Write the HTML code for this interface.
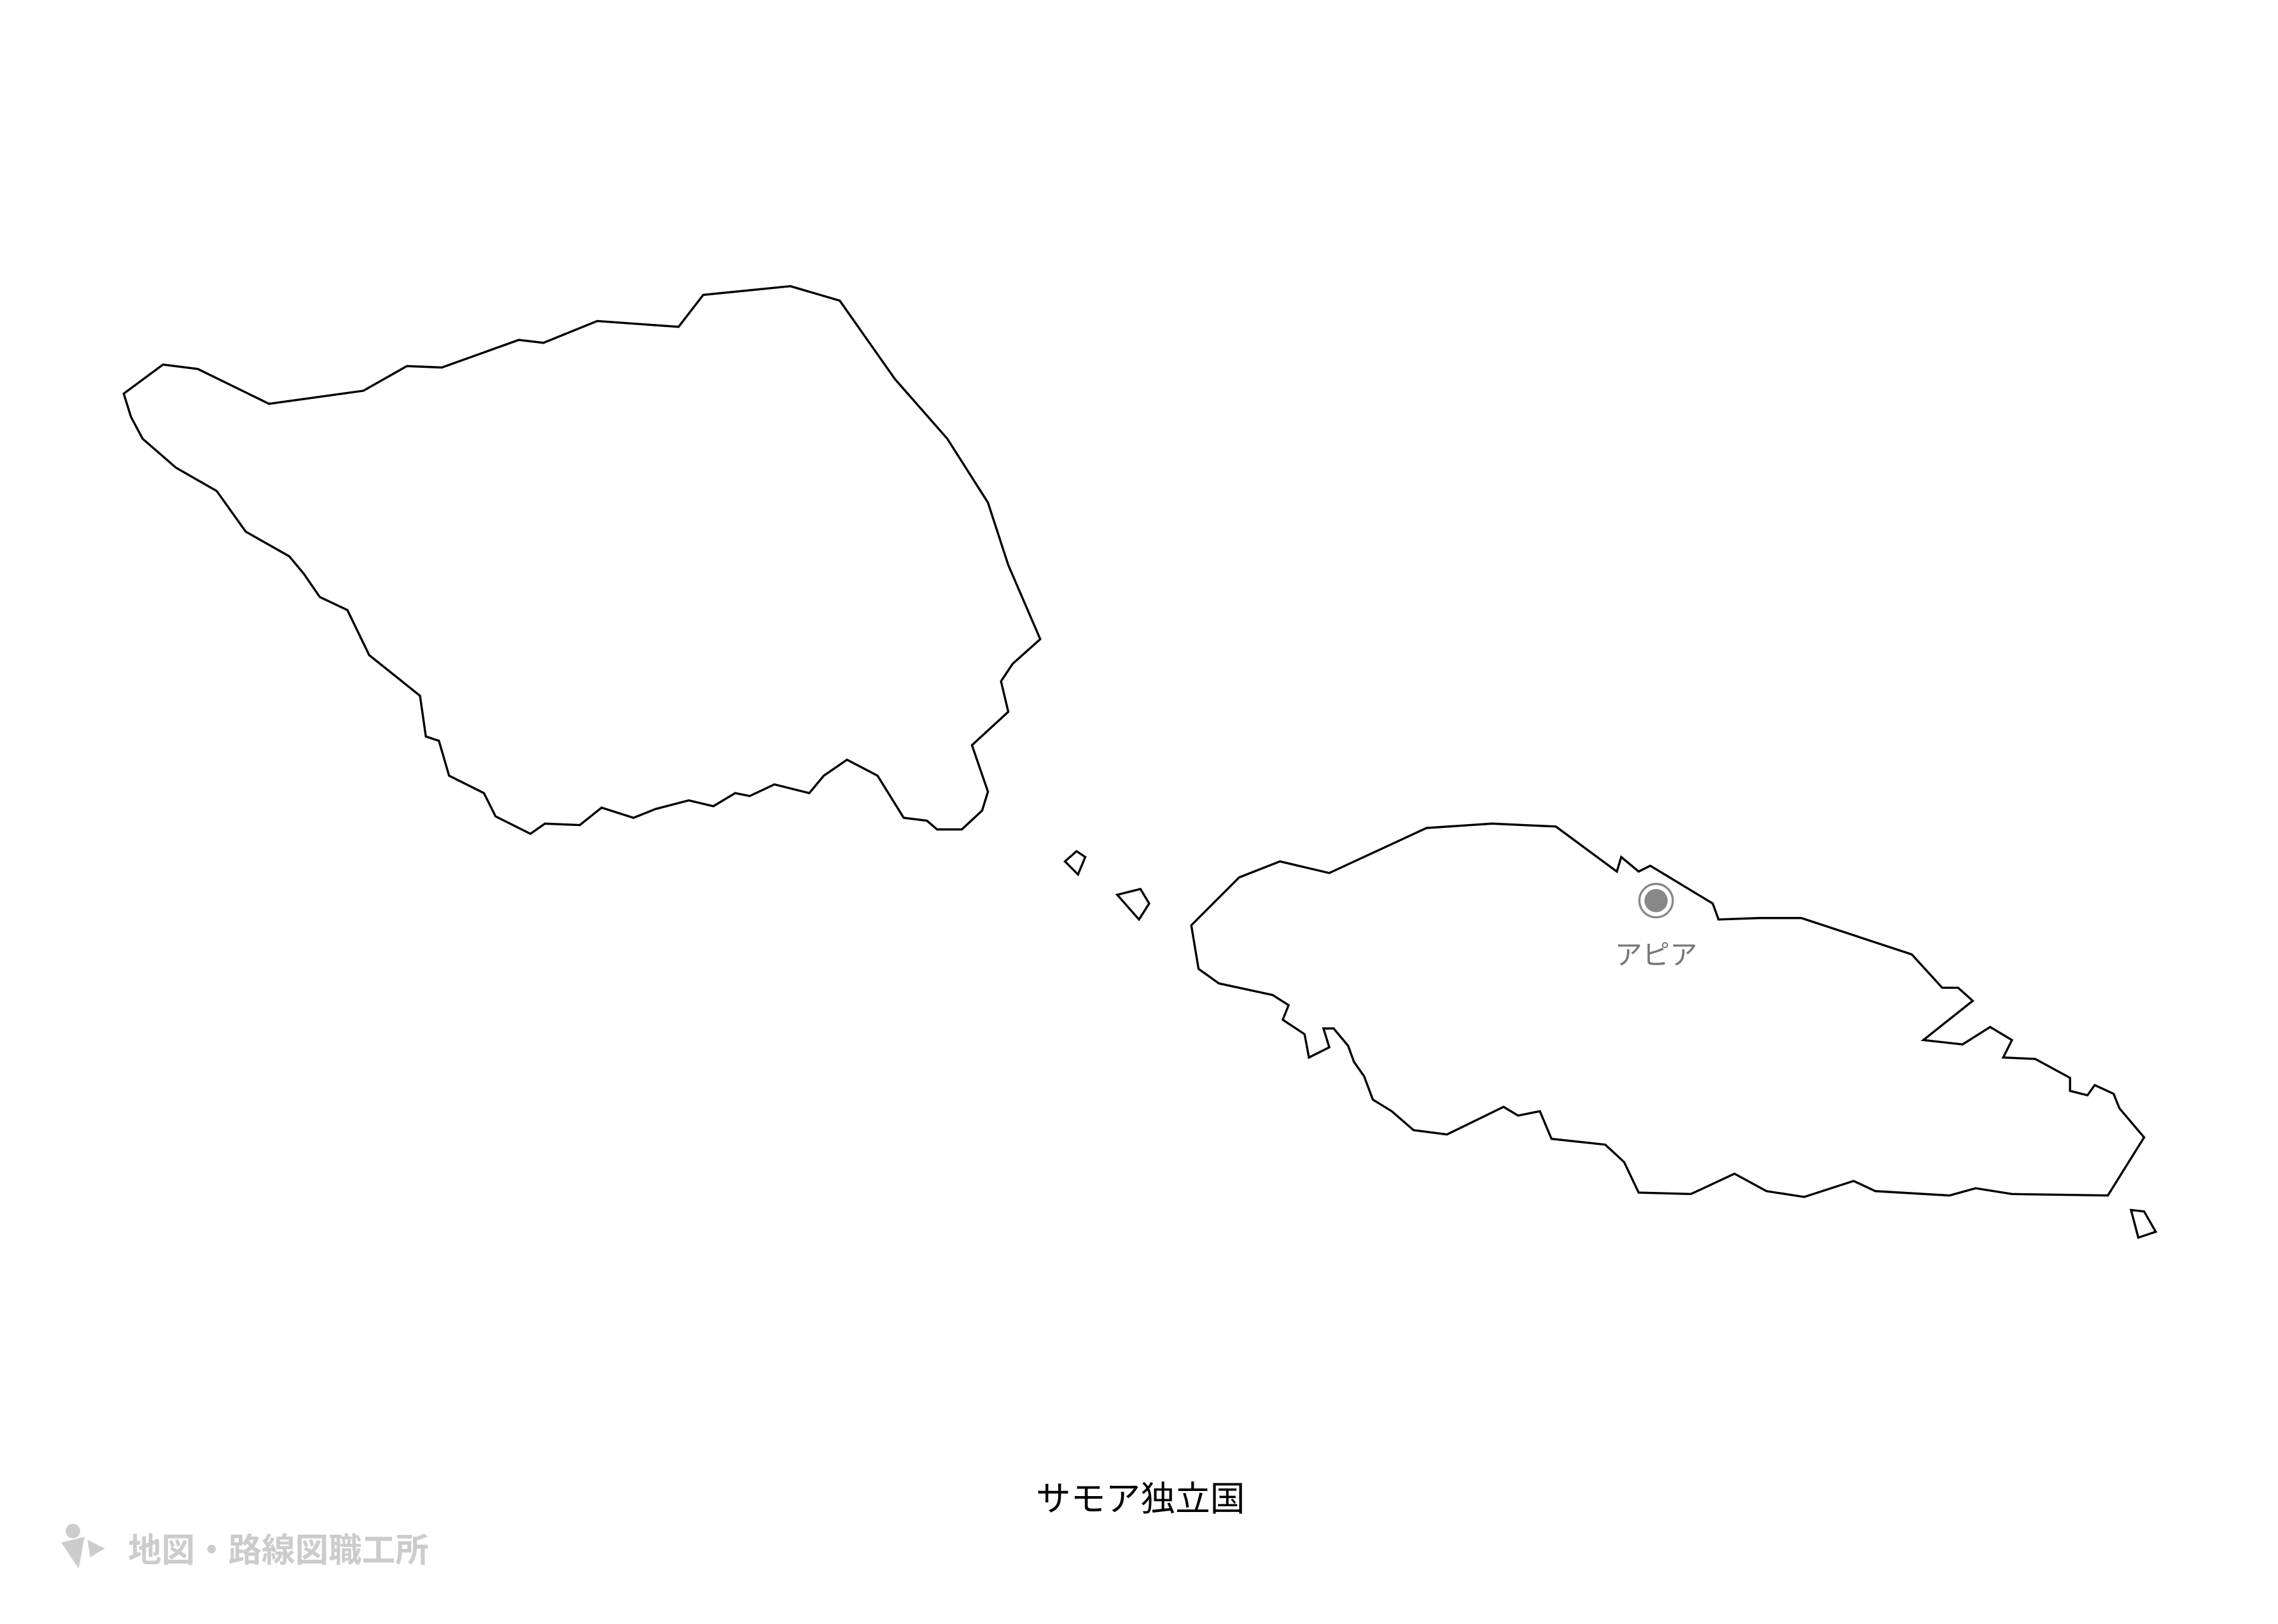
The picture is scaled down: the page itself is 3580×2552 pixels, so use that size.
<!DOCTYPE html>
<html><head><meta charset="utf-8"><style>
html,body{margin:0;padding:0;background:#fff;}
svg{display:block;}
</style></head><body>
<svg width="3580" height="2552" viewBox="0 0 1568 1118" xmlns="http://www.w3.org/2000/svg">
<rect width="1568" height="1118" fill="#fff"/>
<g fill="#fff" stroke="#000" stroke-width="1.5" stroke-linejoin="miter">
<polygon points="85,271 112,251 136,254 185,278 250,269 280,252 304,253 357,234 374,236 411,221 467,225 484,203 544,197 578,207 616,261 652,302 680,346 694,389 716,440 697,457 689,469 694,490 669,513 680,545 676,558 662,571 645,571 638,565 622,563 604,534 583,523 567,534 557,546 533,540 516,548 506,546 491,555 474,551 451,557 436,563 414,556 399,568 375,567 365,574 341,562 333,546 309,534 302,510 293,507 289,479 254,451 239,420 220,411 209,395 199,383 169,366 149,338 121,322 98,302 90,287"/>
<polygon points="733,593 741,586 747,590 742,602"/>
<polygon points="769,616 785,612 791,622 784,633"/>
<polygon points="820,637 853,604 881,593 915,601 982,570 1027,567 1071,569 1113,600 1116,590 1128,600 1136,596 1179,622 1183,633 1211,632 1240,632 1316,657 1337,680 1348,680 1358,689 1324,716 1351,719 1370,707 1385,716 1379,728 1401,729 1425,742 1425,751 1437,754 1442,747 1455,753 1459,763 1476,783 1451,823 1385,822 1360,818 1342,823 1291,820 1276,813 1242,824 1216,820 1194,808 1164,822 1128,821 1118,800 1105,788 1068,784 1060,765 1045,768 1035,762 996,781 973,778 958,765 945,757 939,741 932,731 928,720 918,708 911,708 915,721 901,728 898,712 883,702 887,692 876,685 839,677 825,667"/>
<polygon points="1467,833 1476,834 1484,848 1472,852"/>
</g>
<circle cx="1140" cy="620" r="11.5" fill="#fff" stroke="#888" stroke-width="1.5"/>
<circle cx="1140" cy="620" r="8" fill="#888"/>
<text x="1140" y="664" text-anchor="middle" font-family="'Liberation Sans','Noto Sans CJK JP',sans-serif" font-size="19" fill="#777">アピア</text>
<text x="785" y="1040" text-anchor="middle" font-family="'Liberation Sans','Noto Sans CJK JP',sans-serif" font-size="24" fill="#000">サモア独立国</text>
<g fill="#ccc">
<circle cx="50" cy="1054" r="5"/>
<path d="M42,1062 L58,1058 L54,1080 Z"/>
<path d="M60,1060 L72,1066 L62,1072 Z"/>
</g>
<text x="88" y="1075" font-family="'Liberation Sans','Noto Sans CJK JP',sans-serif" font-size="23" font-weight="bold" fill="#ccc">地図・路線図職工所</text>
</svg>
</body></html>
